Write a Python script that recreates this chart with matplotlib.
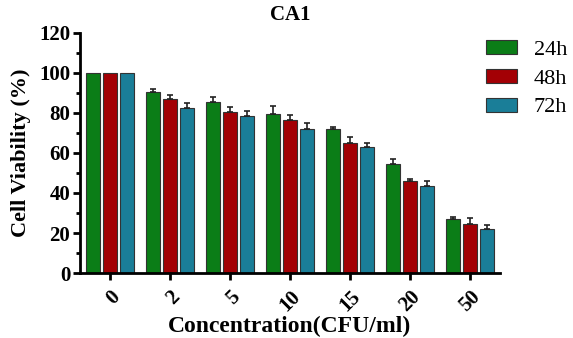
import matplotlib.pyplot as plt
import numpy as np
from matplotlib.ticker import MultipleLocator

plt.rcParams['font.family'] = ['Liberation Serif', 'DejaVu Serif']

concentrations = ['0', '2', '5', '10', '15', '20', '50']
series_names = ['24h', '48h', '72h']
viab_24h = [100, 90.6, 85.3, 79.7, 72.2, 54.5, 27.0]
viab_48h = [100, 87.2, 80.5, 76.5, 65.2, 46.2, 24.7]
viab_72h = [100, 82.7, 78.7, 72.2, 63.2, 43.5, 22.0]
err_24h = [0, 1.5, 2.7, 4.0, 0.8, 2.5, 1.0]
err_48h = [0, 2.0, 2.3, 2.5, 3.0, 0.8, 3.0]
err_72h = [0, 2.3, 2.3, 3.0, 2.0, 2.3, 1.8]

colors = ['#0b7d17', '#a30005', '#1a7e98']

fig = plt.figure(figsize=(5.73, 3.38), dpi=100)
ax = fig.add_axes([0.1396, 0.1923, 0.7330, 0.7101])

x = np.arange(len(concentrations))
width = 0.235
step = 0.278
vals = [viab_24h, viab_48h, viab_72h]
errs = [err_24h, err_48h, err_72h]
for i, (v, e) in enumerate(zip(vals, errs)):
    v = np.array(v)
    e = np.array(e)
    pos = x + (i - 1) * step
    ax.bar(pos, v, width, color=colors[i], edgecolor='#333333',
           linewidth=0.8, label=series_names[i])
    m = e > 0
    ax.errorbar(pos[m], v[m], yerr=[np.zeros(m.sum()), e[m]], fmt='none',
                capsize=2.5, elinewidth=1.2, capthick=1.2, ecolor='#222222')

ax.set_xlim(-0.5, 6.5)
ax.set_ylim(0, 120)
ax.yaxis.set_major_locator(MultipleLocator(20))
ax.yaxis.set_minor_locator(MultipleLocator(10))
ax.set_xticks(x)
ax.set_xticklabels(concentrations, rotation=45, ha='right', va='top',
                   rotation_mode='anchor', fontweight='bold', fontsize=15)
for lab in ax.get_yticklabels():
    lab.set_fontweight('bold')
    lab.set_fontsize(15)

for s in ['top', 'right']:
    ax.spines[s].set_visible(False)
for s in ['left', 'bottom']:
    ax.spines[s].set_linewidth(2)
ax.tick_params(axis='both', which='major', width=2, length=5, direction='out')
ax.tick_params(axis='y', which='minor', width=2, length=3)
ax.tick_params(axis='x', pad=5)
ax.tick_params(axis='y', pad=2)

ax.set_xlabel('Concentration(CFU/ml)', fontweight='bold', fontsize=17, labelpad=0)
ax.set_ylabel('Cell Viability (%)', fontweight='bold', fontsize=16, labelpad=6)
ax.set_title('CA1', fontweight='bold', fontsize=15, pad=9)

fig.legend(loc='upper left', bbox_to_anchor=(486 / 573, 1 - 40 / 338),
           frameon=False, fontsize=16, handlelength=1.4, handleheight=0.6,
           labelspacing=0.4, handletextpad=0.75, borderaxespad=0, borderpad=0)

fig.savefig('out.png', dpi=100)
